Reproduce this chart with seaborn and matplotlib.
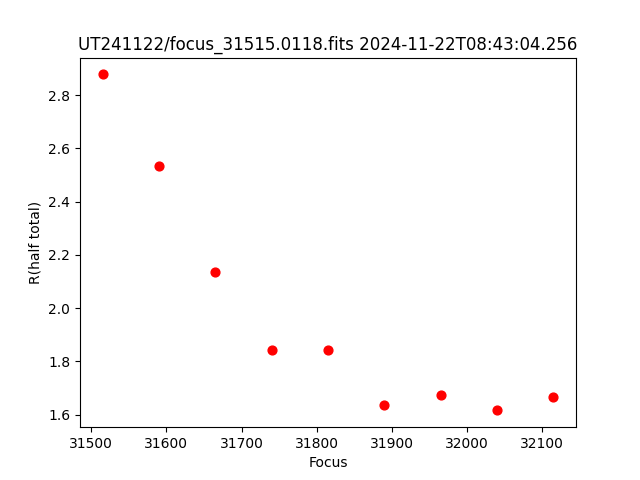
import matplotlib
matplotlib.use("Agg")
import matplotlib.pyplot as plt
import seaborn as sns
import pandas as pd

# focus positions and measured half-total radius
focus = [31515, 31590, 31665, 31740, 31815, 31890, 31965, 32040, 32115]
r_half = [2.878, 2.533, 2.135, 1.842, 1.842, 1.635, 1.672, 1.616, 1.665]

title = "UT241122/focus_31515.0118.fits 2024-11-22T08:43:04.256"

df = pd.DataFrame({"Focus": focus, "R(half total)": r_half})

fig, ax = plt.subplots(figsize=(6.4, 4.8), dpi=100)
sns.scatterplot(data=df, x="Focus", y="R(half total)", ax=ax,
                color="red", edgecolor="red", s=40, linewidth=1)
ax.set_title(title)
plt.savefig("out.png")
plt.close()
